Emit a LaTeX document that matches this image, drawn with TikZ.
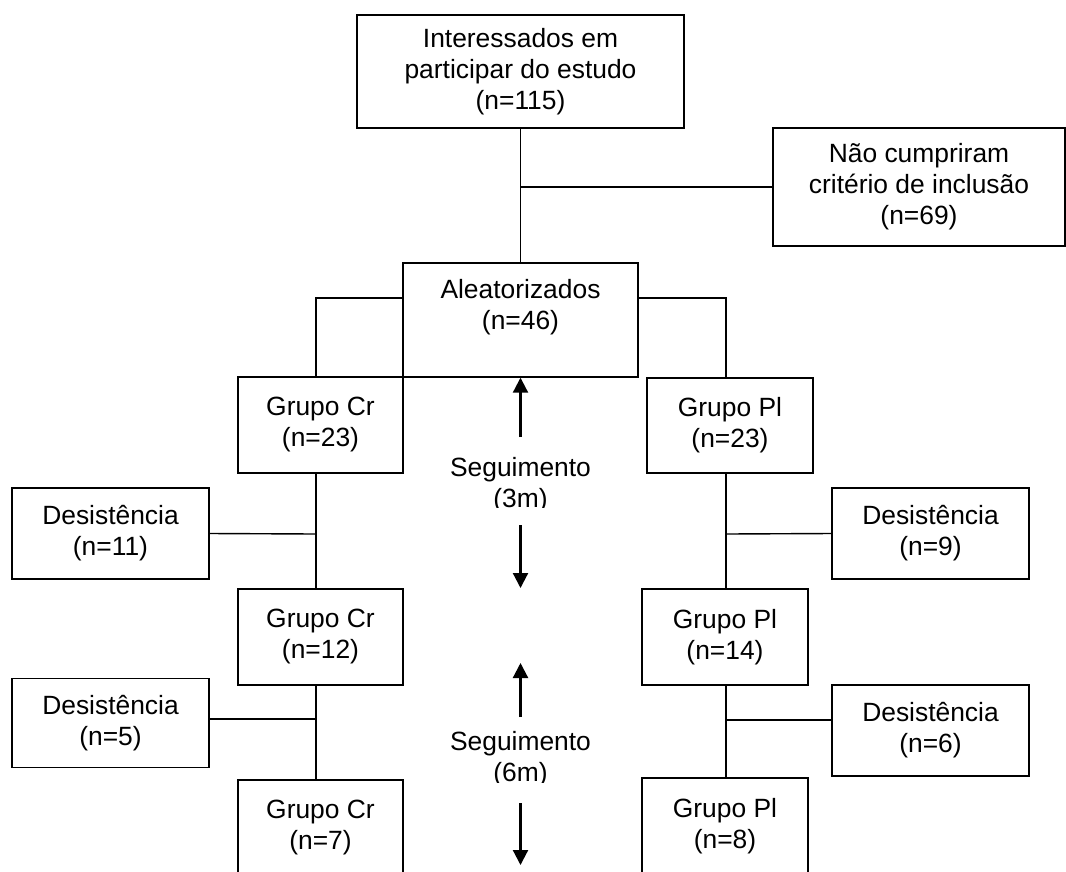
\documentclass[tikz,border=0pt]{standalone}
\usepackage{fontspec}
\setmainfont{Liberation Sans}
\usetikzlibrary{arrows.meta}
\begin{document}
\begin{tikzpicture}[x=1pt,y=-1pt,
  box/.style={draw,line width=1.4pt,align=center,inner sep=0pt,font=\fontsize{26.4}{31}\selectfont},
  conn/.style={line width=1.4pt},
  arr/.style={line width=2.2pt,-{Triangle[width=15pt,length=15pt]}},
  lbl/.style={align=center,inner sep=0pt,font=\fontsize{26.4}{31}\selectfont}]
\useasboundingbox (0,0) rectangle (1066,871);
% boxes
\node[box,minimum width=327pt,minimum height=113pt] (top) at (520.5,71.5) {Interessados em\\participar do estudo\\(n=115)};
\node[box,minimum width=292pt,minimum height=118pt] (excl) at (919,187) {Não cumpriram\\critério de inclusão\\(n=69)};
\node[box,minimum width=235pt,minimum height=114pt] (rand) at (520.5,320) {Aleatorizados\\(n=46)\\\mbox{}};
\node[box,minimum width=165pt,minimum height=96pt] (cr1) at (320.5,425) {Grupo Cr\\(n=23)};
\node[box,minimum width=166pt,minimum height=95pt] (pl1) at (730,425.5) {Grupo Pl\\(n=23)};
\node[box,minimum width=197pt,minimum height=91pt] (d11) at (110.5,533.5) {Desistência\\(n=11)};
\node[box,minimum width=197pt,minimum height=91pt] (d9) at (930.5,533.5) {Desistência\\(n=9)};
\node[box,minimum width=165pt,minimum height=96pt] (cr2) at (320.5,637) {Grupo Cr\\(n=12)};
\node[box,minimum width=166pt,minimum height=96pt] (pl2) at (725,637) {Grupo Pl\\(n=14)};
\node[box,minimum width=197pt,minimum height=89pt] (d5) at (110.5,723) {Desistência\\(n=5)};
\node[box,minimum width=197pt,minimum height=91pt] (d6) at (930.5,730.5) {Desistência\\(n=6)};
\node[box,minimum width=165pt,minimum height=96pt] (cr3) at (320.5,828) {Grupo Cr\\(n=7)};
\node[box,minimum width=166pt,minimum height=96pt] (pl3) at (725,826) {Grupo Pl\\(n=8)};
% junction points
\coordinate (j1) at (520.5,187);
\coordinate (jl1) at (316,534);
\coordinate (jl2) at (316,719);
\coordinate (jr1) at (726,534);
\coordinate (jr2) at (726,720);
\coordinate (d5c) at (209,719);
\coordinate (d6c) at (832,720);
% connectors
\draw[conn] (top.south) -- (rand.north);
\draw[conn] (j1) -- (excl.west);
\draw[conn] ([yshift=22pt]rand.west) -| ([xshift=-4.5pt]cr1.north);
\draw[conn] ([yshift=22pt]rand.east) -| ([xshift=-4pt]pl1.north);
\draw[conn] ([xshift=-4.5pt]cr1.south) -- ([xshift=-4.5pt]cr2.north);
\draw[conn] (d11.east) -- (jl1);
\draw[conn] ([xshift=-4.5pt]cr2.south) -- ([xshift=-4.5pt]cr3.north);
\draw[conn] (d5c) -- (jl2);
\draw[conn] ([xshift=-4pt]pl1.south) -- ([xshift=1pt]pl2.north);
\draw[conn] (d9.west) -- (jr1);
\draw[conn] ([xshift=1pt]pl2.south) -- ([xshift=1pt]pl3.north);
\draw[conn] (d6c) -- (jr2);
% follow-up arrows
\coordinate (u1) at (520.5,437);
\coordinate (d1a) at (520.5,525);
\coordinate (d1b) at (520.5,588);
\coordinate (u2a) at (520.5,717);
\coordinate (u2b) at (520.5,663);
\coordinate (d2a) at (520.5,803);
\coordinate (d2b) at (520.5,865);
\draw[arr] (u1) -- (rand.south);
\draw[arr] (d1a) -- (d1b);
\draw[arr] (u2a) -- (u2b);
\draw[arr] (d2a) -- (d2b);
\begin{scope}
\clip (400,440) rectangle (640,507);
\node[lbl] (s3) at (520.5,485) {Seguimento\\(3m)};
\end{scope}
\begin{scope}
\clip (400,720) rectangle (640,782);
\node[lbl] (s6) at (520.5,759.5) {Seguimento\\(6m)};
\end{scope}
\end{tikzpicture}
\end{document}
